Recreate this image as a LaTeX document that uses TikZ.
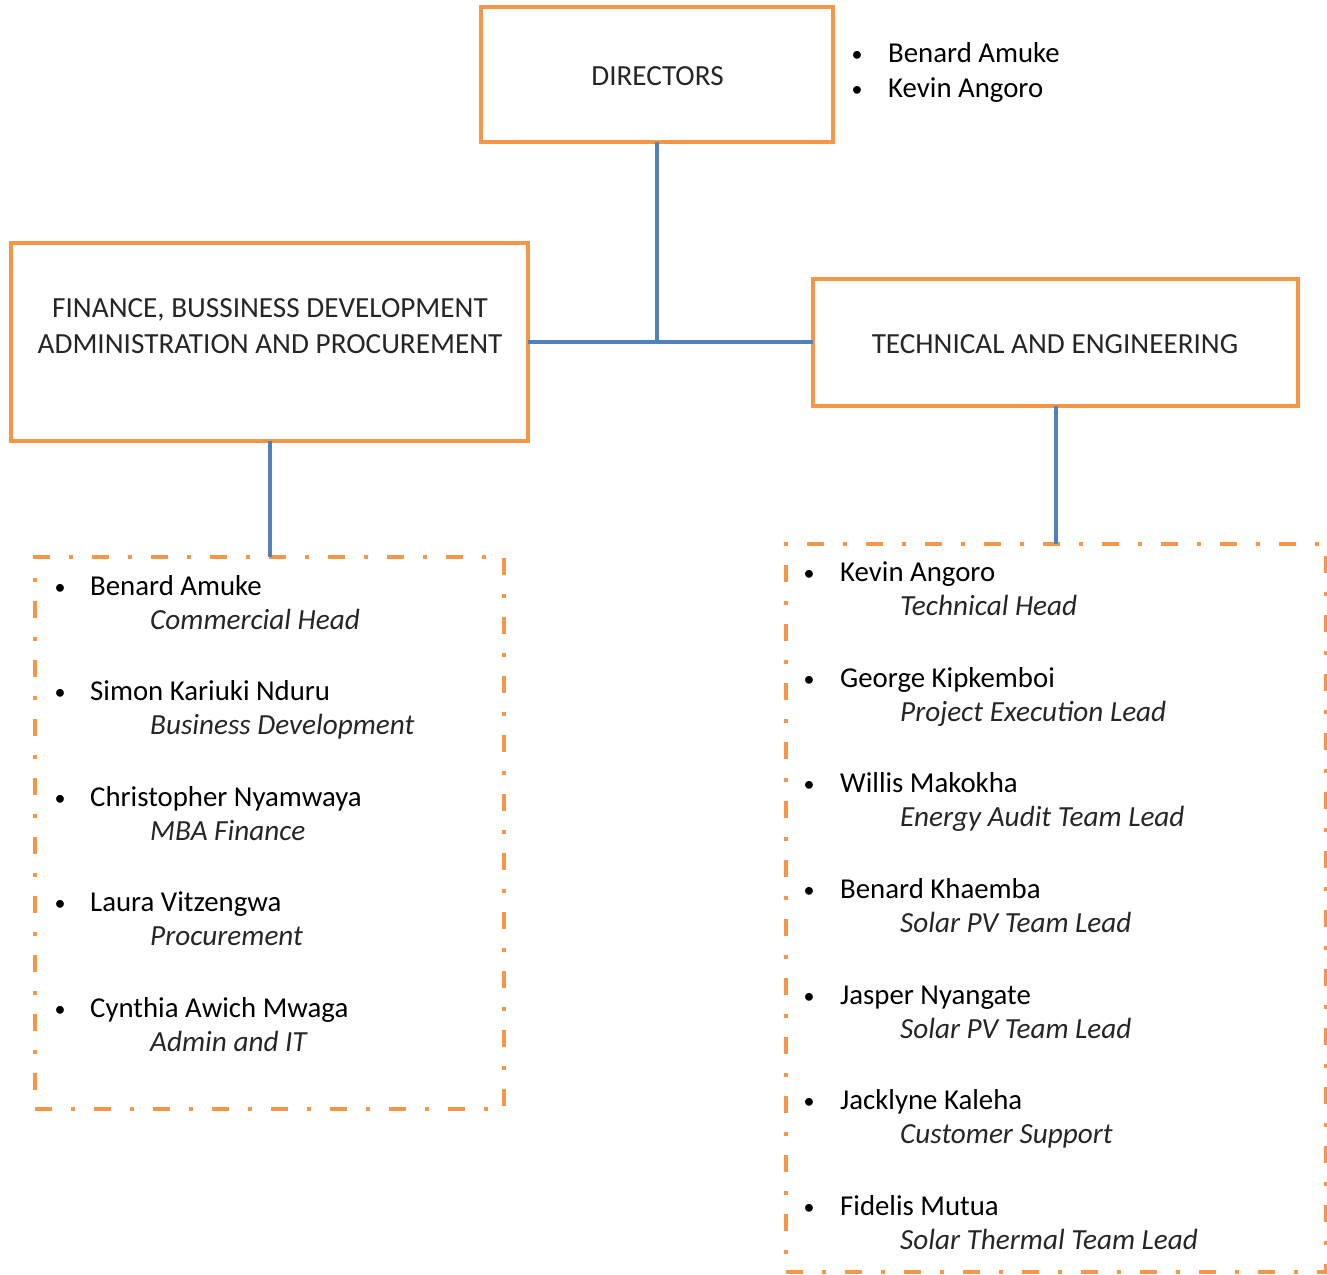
\documentclass[tikz,border=0pt]{standalone}
\usepackage{fontspec}
\setmainfont{Carlito}
\definecolor{borange}{HTML}{F79646}
\definecolor{lblue}{HTML}{4F81BD}
\begin{document}
\begin{tikzpicture}[x=1pt,y=-1pt,
  box/.style={draw=borange,line width=4pt,inner sep=0pt,outer sep=0pt},
  listbox/.style={draw=borange,line width=4pt,inner sep=0pt,outer sep=0pt,dash pattern=on 17pt off 19pt on 4pt off 19pt},
  conn/.style={draw=lblue,line width=4pt},
  boxtext/.style={anchor=base,inner sep=0pt,font=\fontsize{29.2}{34}\selectfont,text=black!85},
  pname/.style={anchor=base west,inner sep=0pt,font=\fontsize{28.8}{34}\selectfont},
  prole/.style={anchor=base west,inner sep=0pt,font=\fontsize{29.2}{34}\selectfont\itshape,text=black!85},
  pbul/.style={anchor=base,inner sep=0pt,font=\fontsize{22}{34}\selectfont}]
\useasboundingbox (0,0) rectangle (1327,1274);
% boxes
\node[box,minimum width=352pt,minimum height=135pt] (dir) at (657,74.5) {};
\node[box,minimum width=517pt,minimum height=198pt] (fin) at (269.5,342) {};
\node[box,minimum width=485pt,minimum height=127pt] (tech) at (1055.5,342) {};
\node[listbox,minimum width=469pt,minimum height=552pt] (lbox) at (269.5,833) {};
\node[listbox,minimum width=540pt,minimum height=728pt] (rbox) at (1055.5,908) {};
% box texts
\node[boxtext] (tdir) at (657.5,85) {DIRECTORS};
\node[boxtext] (tfin1) at (270,317) {FINANCE, BUSSINESS DEVELOPMENT};
\node[boxtext] (tfin2) at (270,353) {ADMINISTRATION AND PROCUREMENT};
\node[boxtext] (ttech) at (1055,353) {TECHNICAL AND ENGINEERING};
% connectors
\draw[conn] (dir.south) -- (dir.south |- fin.east) coordinate (j);
\draw[conn] (fin.east) -- (tech.west);
\draw[conn] (fin.south) -- (lbox.north);
\draw[conn] (tech.south) -- (rbox.north);
% directors list
\node[pbul] (db1) at (857,61) {•};
\node[pname] (dn1) at (888,62) {Benard Amuke};
\node[pbul] (db2) at (857,96) {•};
\node[pname] (dn2) at (888,97) {Kevin Angoro};
% left list
\foreach \n/\r/\y [count=\i] in {Benard Amuke/Commercial Head/595,
  Simon Kariuki Nduru/Business Development/700,
  Christopher Nyamwaya/MBA Finance/806,
  Laura Vitzengwa/Procurement/911,
  Cynthia Awich Mwaga/Admin and IT/1017}{
  \node[pbul] (lb\i) at (60,\y-1) {•};
  \node[pname] (ln\i) at (90,\y) {\n};
  \node[prole] (lr\i) at (150,\y+34) {\r};
}
% right list
\foreach \n/\r/\y [count=\i] in {Kevin Angoro/Technical Head/581,
  George Kipkemboi/Project Execution Lead/687,
  Willis Makokha/Energy Audit Team Lead/792,
  Benard Khaemba/Solar PV Team Lead/898,
  Jasper Nyangate/Solar PV Team Lead/1004,
  Jacklyne Kaleha/Customer Support/1109,
  Fidelis Mutua/Solar Thermal Team Lead/1215}{
  \node[pbul] (rb\i) at (809,\y-1) {•};
  \node[pname] (rn\i) at (840,\y) {\n};
  \node[prole] (rr\i) at (900,\y+34) {\r};
}
\end{tikzpicture}
\end{document}
